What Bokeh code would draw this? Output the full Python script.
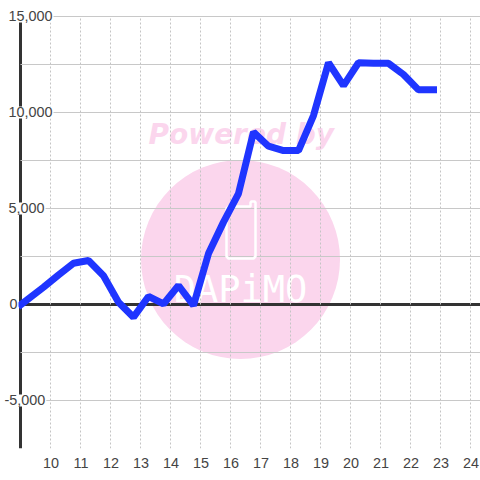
from bokeh.plotting import figure
from bokeh.embed import file_html
from bokeh.resources import INLINE
from bokeh.models import Label, FixedTicker, PolyAnnotation, Range1d

x_values = [9.0, 9.75, 10.25, 10.75, 11.25, 11.75, 12.25, 12.75, 13.25, 13.75, 14.25, 14.75,
            15.25, 15.75, 16.25, 16.75, 17.25, 17.75, 18.25, 18.75, 19.25, 19.75, 20.25,
            20.75, 21.25, 21.75, 22.25, 22.75]
y_values = [0, 900, 1540, 2150, 2290, 1500, 120, -660, 420, 30, 990, -50,
            2650, 4290, 5780, 8975, 8245, 8020, 8020, 9840, 12590, 11400, 12590,
            12560, 12560, 11980, 11180, 11180]
x_ticks = list(range(10, 25))
y_minor_grid = [-7500, -5000, -2500, 2500, 5000, 7500, 10000, 12500, 15000]
y_label_values = [15000, 10000, 5000, 0, -5000]
y_label_texts = ["15,000", "10,000", "5,000", "0", "-5,000"]

FONT = "Liberation Sans"
TXT = "#444444"
GRID = "#c8c8c8"
PINK = "#fbd6ed"

def sy(y):
    return 448 - y

p = figure(width=480, height=480, output_backend="svg", toolbar_location=None,
           x_range=Range1d(8.317, 24.317), y_range=Range1d(-7500, 15833),
           min_border_left=0, min_border_right=0, min_border_top=0, min_border_bottom=32,
           background_fill_color="white", border_fill_color="white", outline_line_color=None)

# axes
xa = p.xaxis[0]
xa.ticker = FixedTicker(ticks=x_ticks)
xa.axis_line_color = None
xa.major_tick_line_color = None
xa.minor_tick_line_color = None
xa.major_label_text_font = FONT
xa.major_label_text_font_size = "14.4px"
xa.major_label_text_color = TXT
xa.major_label_standoff = 3

ya = p.yaxis[0]
ya.fixed_location = 9.0
ya.bounds = (-7500, 15000)
ya.level = "underlay"
ya.ticker = FixedTicker(ticks=y_minor_grid)
ya.axis_line_color = "#333333"
ya.axis_line_width = 3
ya.major_tick_line_color = None
ya.minor_tick_line_color = None
ya.major_label_text_color = None
ya.major_label_text_font_size = "1px"
ya.major_label_standoff = 0

# grids
p.xgrid[0].ticker = FixedTicker(ticks=x_ticks)
p.xgrid[0].grid_line_color = "#c4c4c4"
p.xgrid[0].grid_line_dash = "2 2"
p.xgrid[0].grid_line_width = 1
p.xgrid[0].cross_bounds = (-7500, 15000)
p.ygrid[0].ticker = FixedTicker(ticks=y_minor_grid)
p.ygrid[0].grid_line_color = GRID
p.ygrid[0].grid_line_width = 1
p.ygrid[0].cross_bounds = (9.0, 24.317)

# watermark
p.circle([16.317], [2344], radius=99.5, radius_units="screen", fill_color=PINK,
         line_color=None, level="image")
p.add_layout(Label(x=148, y=sy(134), x_units="screen", y_units="screen", text="Powered by",
                   text_font="DejaVu Sans", text_font_style="bold italic", text_font_size="28px",
                   text_color=PINK, text_baseline="middle", text_align="left", level="image"))
p.add_layout(Label(x=240, y=sy(289), x_units="screen", y_units="screen", text="DAPiMO",
                   text_font="DejaVu Sans Mono", text_font_size="37px",
                   text_color="white", text_baseline="middle", text_align="center", level="image"))
p.add_layout(PolyAnnotation(
    xs=[228, 250, 250, 251, 254, 255, 255, 253, 228, 226, 226, 228],
    ys=[sy(v) for v in [206, 206, 202, 201, 201, 202, 256, 258, 258, 256, 208, 206]],
    xs_units="screen", ys_units="screen", fill_color=None, line_alpha=1.0,
    line_color="white", line_width=2.5, level="underlay"))

# zero line
p.segment([9.0], [0], [24.317], [0], line_color="#333333", line_width=3, level="underlay")

# series
p.line(x_values, y_values, line_color="#1f35ff", line_width=7, line_join="bevel", line_cap="square")

# y tick labels
for v, t in zip(y_label_values, y_label_texts):
    left = 3 if t.startswith("-") else (8 if t == "0" else 7)
    p.add_layout(Label(x=left, y=v, x_units="screen",
                       text=t, text_font=FONT, text_font_size="14.4px", text_color=TXT,
                       text_baseline="middle", text_align="left",
                       background_fill_color="white", padding=1))

open("out.html", "w").write(file_html(p, INLINE))
